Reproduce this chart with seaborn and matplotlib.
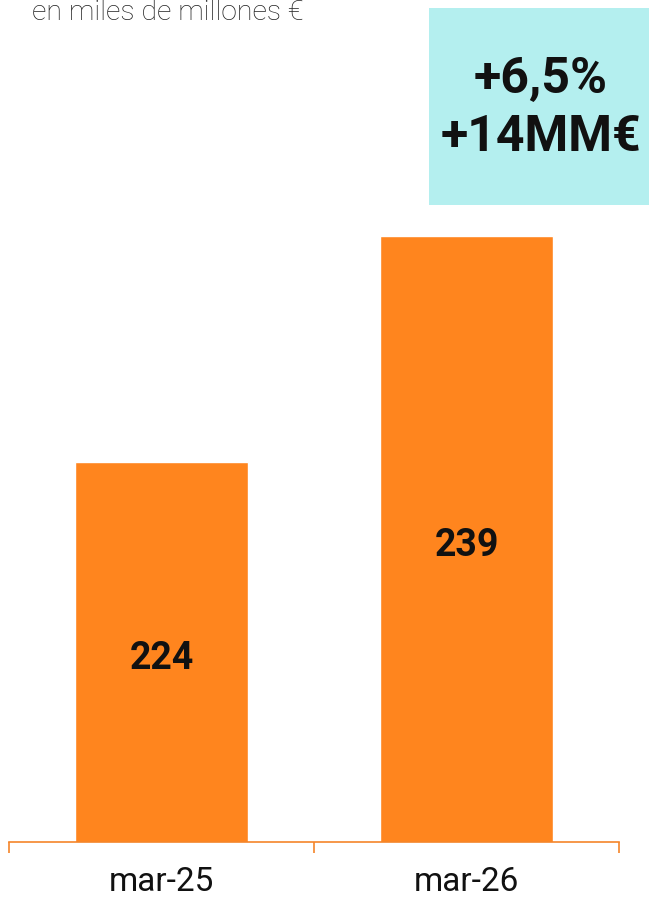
import matplotlib
matplotlib.use("Agg")
import matplotlib.pyplot as plt
import pandas as pd
import seaborn as sns

# --- data
periods = ["mar-25", "mar-26"]
values = [224, 239]
growth_pct = "+6,5%"
growth_abs = "+14MM€"
subtitle = "en miles de millones €"

bar_color = "#FF851E"
axis_color = "#F5852A"
box_color = "#B4EFEF"

sns.set_style("white")
plt.rcParams["font.family"] = ["Roboto", "DejaVu Sans"]

df = pd.DataFrame({"period": periods, "value": values})

fig = plt.figure(figsize=(6.49, 8.98), dpi=100)
W, H = 649, 898
# axes from x=9..619 px, y=236..842 px
ax = fig.add_axes([9 / W, (H - 842) / H, 610 / W, 606 / H])

sns.barplot(data=df, x="period", y="value", color=bar_color,
            saturation=1, width=0.567, ax=ax)

ax.set_xlim(-0.5, 1.5)
ax.set_ylim(198.8, 239)

for spine in ["top", "right", "left"]:
    ax.spines[spine].set_visible(False)
ax.spines["bottom"].set_color(axis_color)
ax.spines["bottom"].set_linewidth(1.2)

ax.set_yticks([])
ax.set_xlabel("")
ax.set_ylabel("")
ax.set_xticks([0, 1])
ax.set_xticklabels(periods, fontsize=24, color="#111111")
ax.tick_params(axis="x", which="major", length=0, pad=17)
ax.set_xticks([-0.5, 0.5, 1.5], minor=True)
ax.tick_params(axis="x", which="minor", bottom=True, length=8, width=1.2,
               color=axis_color, direction="out")

# value labels inside bars
for i, v in enumerate(values):
    ymid = (ax.get_ylim()[0] + v) / 2
    ax.annotate(str(v), (i, ymid), xytext=(0, -4.5), textcoords="offset points",
                ha="center", va="center",
                fontsize=27, fontweight="bold", color="#111111")

# subtitle at the very top
fig.text(32 / W, 1 - 20 / H, subtitle, ha="left", va="baseline",
         fontsize=20.5, fontweight="light", color="#222222")

# growth box
box = plt.Rectangle((429 / W, 1 - 205 / H), 220 / W, 197 / H,
                    transform=fig.transFigure, facecolor=box_color,
                    edgecolor="none")
fig.patches.append(box)
fig.text(541 / W, 1 - 80 / H, growth_pct, ha="center", va="center",
         fontsize=36, fontweight="bold", color="#111111")
fig.text(541 / W, 1 - 138 / H, growth_abs, ha="center", va="center",
         fontsize=36, fontweight="bold", color="#111111")

fig.savefig("out.png", dpi=100)
